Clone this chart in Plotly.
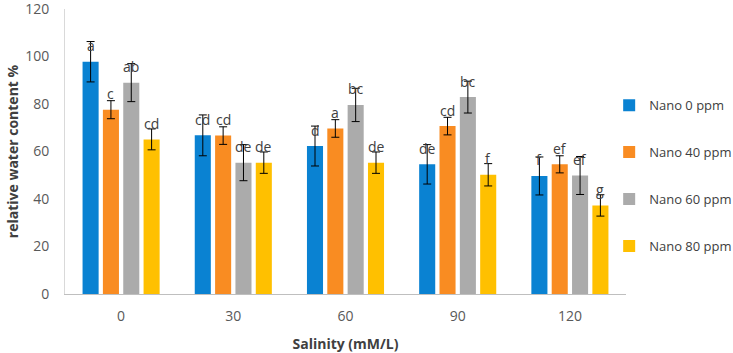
import plotly.graph_objects as go

categories = ["0", "30", "60", "90", "120"]
series_names = ["Nano 0 ppm", "Nano 40 ppm", "Nano 60 ppm", "Nano 80 ppm"]
nano0 = [97.8, 66.8, 62.3, 54.6, 49.7]
nano40 = [77.6, 66.7, 69.7, 70.7, 54.6]
nano60 = [89.0, 55.3, 79.6, 82.9, 49.9]
nano80 = [65.1, 55.3, 55.3, 50.2, 37.3]
err0 = [8.5, 8.6, 8.4, 8.3, 8.0]
err40 = [3.8, 3.7, 3.7, 3.7, 3.6]
err60 = [8.0, 7.6, 7.0, 6.7, 8.0]
err80 = [4.4, 4.5, 4.5, 4.7, 4.5]
letters0 = ["a", "cd", "d", "de", "f"]
letters40 = ["c", "cd", "a", "cd", "ef"]
letters60 = ["ab", "de", "bc", "bc", "ef"]
letters80 = ["cd", "de", "de", "f", "g"]
colors = ["#0A82D2", "#F98C22", "#ABABAB", "#FFC000"]

values = [nano0, nano40, nano60, nano80]
errors = [err0, err40, err60, err80]
letters = [letters0, letters40, letters60, letters80]

BARGAP = 0.275
GROUPGAP = 0.21

fig = go.Figure()
for k in range(4):
    fig.add_trace(go.Bar(
        x=categories, y=values[k], name=series_names[k],
        marker=dict(color=colors[k], line=dict(width=0)),
        error_y=dict(type="data", array=errors[k], color="#000000",
                     thickness=1, width=4),
        legendgroup=str(k),
    ))

# letter labels placed above each bar
slot = (1 - BARGAP) / 4
annotations = []
for k in range(4):
    off = (k - 1.5) * slot
    for i, cat in enumerate(categories):
        annotations.append(dict(
            x=i + off, y=values[k][i], xref="x", yref="y",
            text=letters[k][i], showarrow=False, yshift=16,
            font=dict(family="Open Sans", size=14, color="#404040"),
        ))

fig.update_layout(
    width=733, height=353,
    margin=dict(l=65, r=107, t=9, b=59, autoexpand=False),
    paper_bgcolor="white", plot_bgcolor="white",
    barmode="group", bargap=BARGAP, bargroupgap=GROUPGAP,
    font=dict(family="Open Sans", size=14, color="#595959"),
    showlegend=True,
    legend=dict(x=0.97, xanchor="left", y=0.415, yanchor="middle",
                tracegroupgap=27, font=dict(size=13, color="#404040"),
                bgcolor="rgba(0,0,0,0)", itemwidth=30),
    annotations=annotations,
)
fig.update_xaxes(
    type="category", showgrid=False, showline=True, linecolor="#BFBFBF",
    linewidth=1, ticks="", ticklabelstandoff=9, automargin=False,
    tickfont=dict(size=14, color="#595959"),
    title=dict(text="<b>Salinity (mM/L)</b>", standoff=18,
               font=dict(size=14, color="#404040")),
)
fig.update_yaxes(
    range=[0, 120], dtick=20, showgrid=False, showline=True,
    linecolor="#D9D9D9", linewidth=1, ticks="", ticklabelstandoff=12,
    zeroline=False, automargin=False, ticklabeloverflow="allow",
    tickfont=dict(size=14, color="#595959"),
    title=dict(text="<b>relative water content %</b>", standoff=3,
               font=dict(size=14, color="#404040")),
)

fig.write_html("out.html", config={"displayModeBar": False},
               post_script="document.body.style.margin='0px';")
